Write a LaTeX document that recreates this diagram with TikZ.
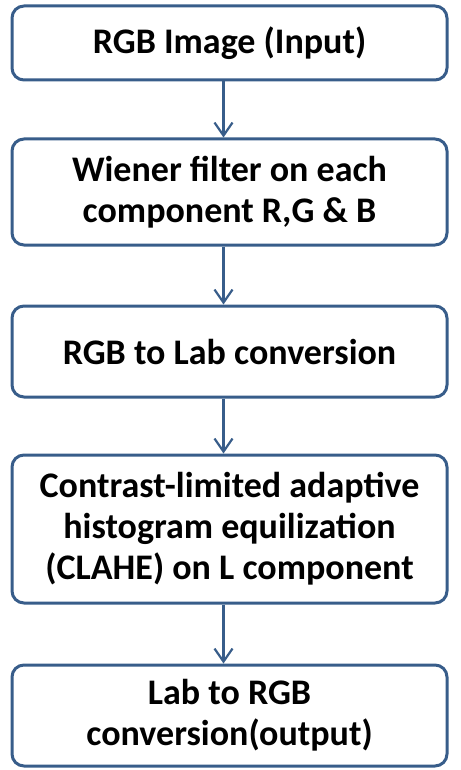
\documentclass[tikz,border=0pt]{standalone}
\usepackage{fontspec}
\setmainfont{Carlito}
\usetikzlibrary{arrows.meta}
\definecolor{boxline}{RGB}{56,93,138}

\begin{document}
\begin{tikzpicture}[x=1pt, y=-1pt,
    stepbox/.style={draw=boxline, line width=3pt, rounded corners=12pt,
      fill=white, minimum width=435pt, inner sep=0pt, align=center,
      font=\fontsize{36}{41}\selectfont\bfseries},
    flow/.style={draw=boxline, line width=2.2pt,
      -{Straight Barb[length=13pt, width=18pt, line width=2.2pt]}}]
  \useasboundingbox (0,0) rectangle (460,770);

  % --- steps ---
  \node[stepbox, minimum height=74pt]  (input)  at (229.5,43)    {RGB Image (Input)};
  \node[stepbox, minimum height=106pt] (wiener) at (229.5,192)   {Wiener filter on each\\component R,G \& B};
  \node[stepbox, minimum height=91pt]  (tolab)  at (229.5,351.5) {RGB to Lab conversion};
  \node[stepbox, minimum height=148pt] (clahe)  at (229.5,529)   {Contrast-limited adaptive\\histogram equilization\\(CLAHE) on L component};
  \node[stepbox, minimum height=101pt] (output) at (229.5,715.5) {Lab to RGB\\conversion(output)};

  % --- arrows ---
  \draw[flow] ([xshift=-6pt]input.south)  -- ([xshift=-6pt]wiener.north);
  \draw[flow] ([xshift=-6pt]wiener.south) -- ([xshift=-6pt]tolab.north);
  \draw[flow] ([xshift=-6pt]tolab.south)  -- ([xshift=-6pt]clahe.north);
  \draw[flow] ([xshift=-6pt]clahe.south)  -- ([xshift=-6pt]output.north);
\end{tikzpicture}
\end{document}
